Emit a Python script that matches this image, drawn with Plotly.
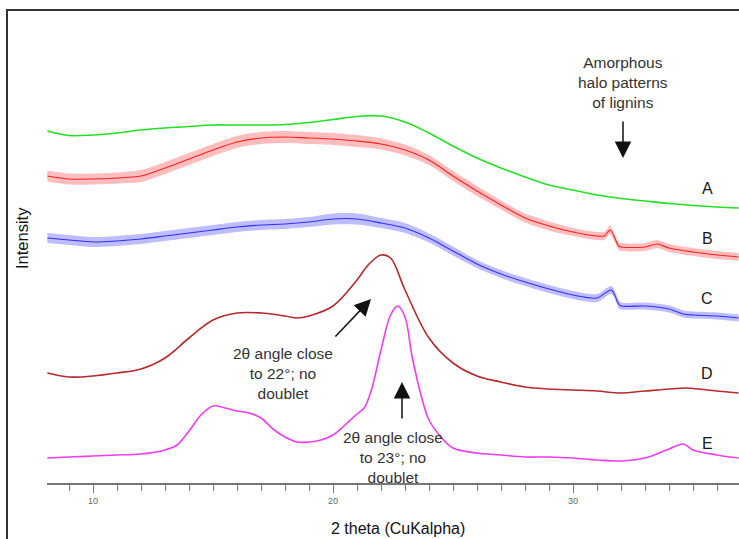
import plotly.graph_objects as go

# ---------------- data (2-theta in degrees, intensity in arbitrary offset units) ----------------
A_x = [8.1, 9, 10, 11, 12, 13, 14, 15, 16, 17, 18, 19, 20, 21, 22, 23, 24, 25, 26, 27, 28, 29, 30,
       31, 32, 33, 34, 35, 36, 36.9]
A_y = [352, 347.5, 348, 350, 353, 355, 356.5, 358, 358, 358, 358.5, 360.5, 363.5, 366.5, 367, 361, 350,
       337, 325, 315, 306, 298, 293, 288, 284.5, 282, 279.5, 277.5, 276, 275]

B_x = [8.1, 9, 10, 11, 12, 13, 14, 15, 16, 17, 18, 19, 20, 21, 22, 23, 24, 25, 26, 27, 28, 29, 30,
       31, 31.3, 31.55, 31.9, 32, 33, 33.5, 34, 35, 36, 36.9]
B_y = [307, 304, 304, 305, 307, 315, 324, 333, 341, 345, 346, 345, 344, 342, 339, 333, 323, 307,
       292, 278, 265, 257, 251, 247, 247, 253, 237, 236, 236, 239, 235, 231, 228, 226]
B_spread = [5.5, 5.5, 5.5, 5.5, 6, 6, 6, 6, 6, 6, 6, 6, 6, 6, 5.5, 5.5, 5, 5, 5, 4.5, 4.5, 4.5, 4,
            4, 4, 4, 4, 4, 4, 4, 4, 4, 4, 4]

C_x = [8.1, 9, 10, 11, 12, 13, 14, 15, 16, 17, 18, 19, 20, 21, 22, 23, 24, 25, 26, 27, 28, 29, 30,
       31, 31.6, 31.9, 32, 33, 34, 34.6, 35, 36, 36.9]
C_y = [245, 243, 241, 242, 244, 247, 250, 253, 256, 258, 259, 261, 264, 264, 260, 255, 245, 232,
       219, 209, 201, 194, 188, 185, 193, 179, 177, 177, 174, 169, 168, 167, 165]
C_spread = [5, 5, 5, 5, 5, 5, 5, 5, 5, 5, 5, 5, 5.5, 5.5, 5, 5, 4.5, 4.5, 4, 4, 4, 4, 4, 4, 4, 4,
            3.5, 3.5, 3.5, 3.5, 3.5, 3.5, 3.5]

D_x = [8.1, 9, 10, 11, 12, 13, 14, 15, 16, 17, 18, 18.5, 19, 20, 21, 21.5, 22, 22.4, 23, 24, 25,
       26, 27, 28, 29, 30, 31, 32, 33, 34, 34.7, 35, 36, 36.9]
D_y = [110, 106, 107, 110, 114, 125, 145, 163, 170, 170, 167, 165, 167, 177, 203, 219, 228, 225,
       193, 145, 120, 107, 101, 96, 94, 93, 92, 90, 92, 94, 95, 94.5, 92, 90]

E_x = [8.1, 9, 10, 11, 12, 13, 13.5, 14, 14.5, 15, 15.5, 16, 16.5, 17, 17.5, 18, 18.5, 19, 19.5,
       20, 20.5, 21, 21.3, 21.6, 22, 22.4, 22.7, 23, 23.3, 23.7, 24, 24.5, 25, 26, 27, 28, 29, 30,
       31, 32, 33, 34, 34.6, 35, 36, 36.9]
E_y = [25, 26, 27, 28, 29, 33, 38, 52, 68, 77, 75, 72, 70, 65, 54, 46, 41, 41, 43, 48, 58, 69, 75,
       93, 133, 168, 177, 166, 126, 85, 63, 46, 35, 30, 28, 26, 26, 25, 23, 22, 25, 34, 39, 33, 28, 25]

labels = ["A", "B", "C", "D", "E"]
label_y = [295, 245, 185, 110, 40]
x_ticks = [10, 20, 30]

# ---------------- layout geometry (pixels) ----------------
W, H = 739, 539
L, T, R, Bm = 47, 10, 0, 56
PW, PH = W - L - R, H - T - Bm


def px(xp):
    return (xp - L) / PW


def py(yp):
    return (H - Bm - yp) / PH


fig = go.Figure()


def band(x, y, s, color, fillc):
    lo = [a - b for a, b in zip(y, s)]
    hi = [a + b for a, b in zip(y, s)]
    fig.add_trace(go.Scatter(x=x, y=lo, mode="lines", line=dict(width=0, shape="spline", smoothing=0.8),
                             hoverinfo="skip", showlegend=False))
    fig.add_trace(go.Scatter(x=x, y=hi, mode="lines", fill="tonexty", fillcolor=fillc,
                             line=dict(width=0, shape="spline", smoothing=0.8),
                             hoverinfo="skip", showlegend=False))
    fig.add_trace(go.Scatter(x=x, y=y, mode="lines", line=dict(color=color, width=1.1, shape="spline",
                                                               smoothing=0.8), showlegend=False))


fig.add_trace(go.Scatter(x=A_x, y=A_y, mode="lines", line=dict(color="#22e022", width=1.6, shape="spline",
                                                               smoothing=1.0), showlegend=False))
band(B_x, B_y, B_spread, "#ff2020", "rgba(255,50,50,0.32)")
band(C_x, C_y, C_spread, "#3030ff", "rgba(50,50,255,0.32)")
fig.add_trace(go.Scatter(x=D_x, y=D_y, mode="lines", line=dict(color="#b52a2a", width=1.6, shape="spline",
                                                               smoothing=1.0), showlegend=False))
fig.add_trace(go.Scatter(x=E_x, y=E_y, mode="lines", line=dict(color="#f03cf0", width=1.6, shape="spline",
                                                               smoothing=1.0), showlegend=False))

x0 = 10 - (93 - L) / 24.0
x1 = x0 + PW / 24.0

ann = []
FONT = "Liberation Sans, Arial, sans-serif"
for lab, ly in zip(labels, label_y):
    ann.append(dict(x=35.6, y=ly, xref="x", yref="y", text=lab, showarrow=False,
                    xanchor="center", yanchor="middle",
                    font=dict(family=FONT, size=16, color="#1a1a1a")))

txt_font = dict(family=FONT, size=15.5, color="#333333")
for tx, ty, t in [(623, 83, "Amorphous<br>halo patterns<br>of lignins"),
                  (283, 373, "2θ angle close<br>to 22°; no<br>doublet"),
                  (393, 457, "2θ angle close<br>to 23°; no<br>doublet")]:
    ann.append(dict(x=px(tx), y=py(ty), xref="paper", yref="paper", text=t, showarrow=False,
                    xanchor="center", yanchor="middle", font=txt_font, align="center"))
# arrows
for hx, hy, axp, ayp in [(623, 158, 0, -38), (371, 299, -37, 39), (402, 382, 0, 38)]:
    ann.append(dict(x=px(hx), y=py(hy), xref="paper", yref="paper", text="", showarrow=True,
                    ax=axp, ay=ayp, arrowhead=2, arrowsize=2.2, arrowwidth=1.5, arrowcolor="#111111",
                    standoff=0))
ann.append(dict(x=px(398), y=py(528), xref="paper", yref="paper", text="2 theta (CuKalpha)",
                xanchor="center", yanchor="middle",
                showarrow=False, font=dict(family=FONT, size=16, color="#111111")))
ann.append(dict(x=px(22), y=py(238), xref="paper", yref="paper", text="Intensity", textangle=-90,
                xanchor="center", yanchor="middle",
                showarrow=False, font=dict(family=FONT, size=16.5, color="#111111")))

fig.update_layout(
    width=W, height=H,
    margin=dict(l=L, r=R, t=T, b=Bm, pad=0),
    paper_bgcolor="white", plot_bgcolor="white",
    annotations=ann,
    shapes=[dict(type="rect", xref="paper", yref="paper", x0=px(7), x1=px(770), y0=py(570), y1=py(10),
                 line=dict(color="#333333", width=2), fillcolor="rgba(0,0,0,0)", layer="below")],
    xaxis=dict(range=[x0, x1], tickmode="array", tickvals=x_ticks, ticktext=[str(v) for v in x_ticks],
               showgrid=False, zeroline=False, showline=True, linecolor="#777777", linewidth=1.5,
               ticks="outside", ticklen=8, tickwidth=1.2, tickcolor="#777777",
               tickfont=dict(family=FONT, size=9, color="#666666"),
               minor=dict(dtick=1, tick0=0, ticks="outside", ticklen=6, tickwidth=1, tickcolor="#777777",
                          showgrid=False)),
    yaxis=dict(range=[0, PH], visible=False, showgrid=False, zeroline=False),
)

fig.write_html("out.html")
